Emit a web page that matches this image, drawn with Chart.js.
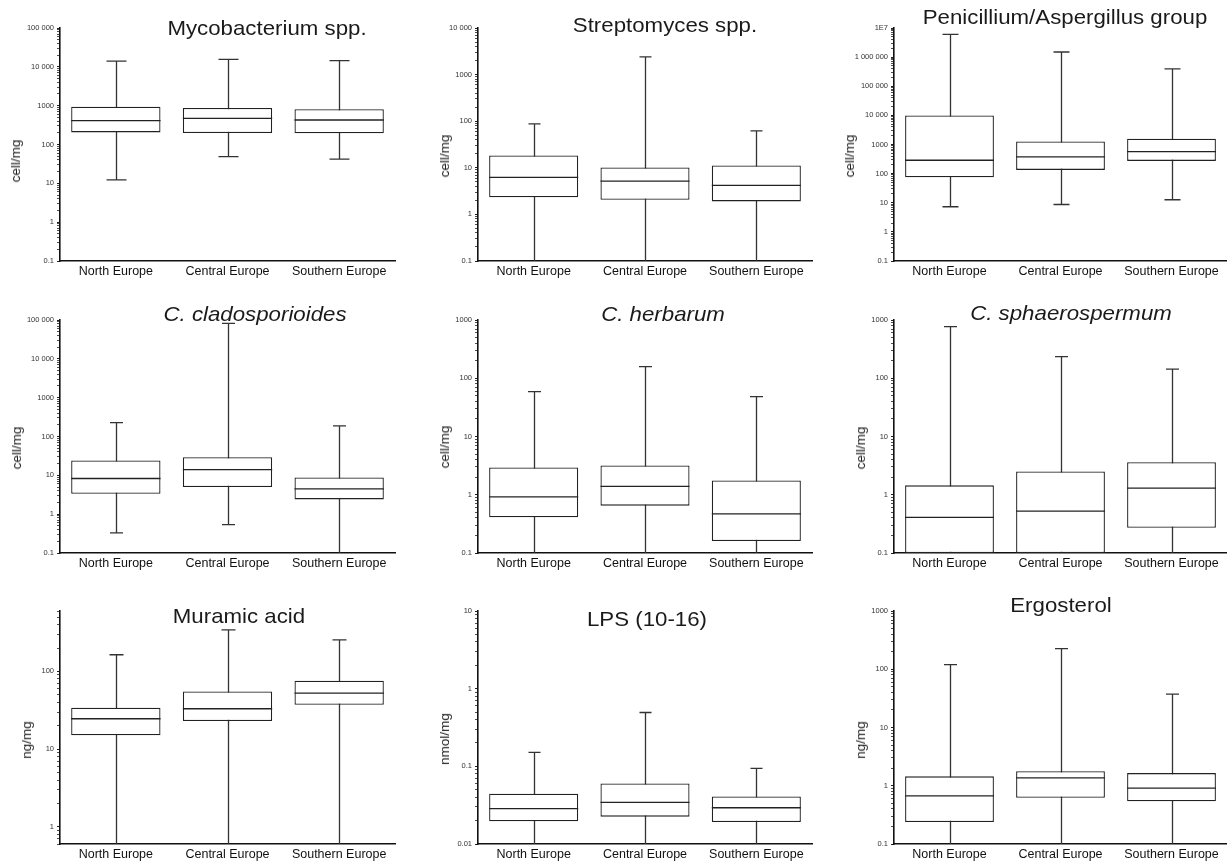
<!DOCTYPE html>
<html>
<head>
<meta charset="utf-8">
<script src="https://cdn.jsdelivr.net/npm/chart.js@4.4.1/dist/chart.umd.min.js"></script>
<style>
    body { margin: 0; background: #fff; }
    #page { position: relative; width: 1227px; height: 863px; overflow: hidden; font-family: "Liberation Sans", Arial, sans-serif; }
    .panel { position: absolute; }
    .title { position: absolute; font-size: 21px; line-height: 21px; white-space: nowrap; color: #1a1a1a; }
    .ytitle { position: absolute; font-size: 13.5px; line-height: 14px; white-space: nowrap; color: #222; transform: translate(-50%, -50%) rotate(-90deg); }
</style>
</head>
<body>
<div id="page"></div>
<script>
const regions = ['North Europe', 'Central Europe', 'Southern Europe'];

// Mycobacterium spp. (cell/mg)
const mycoRange = [0.1, 100000];
const mycoTicks = ['0.1', '1', '10', '100', '1000', '10 000', '100 000'];
const mycoMin = [12.3, 49, 42];
const mycoQ1  = [205, 198, 195];
const mycoMed = [410, 470, 427];
const mycoQ3  = [940, 870, 810];
const mycoMax = [14000, 15600, 14400];

// Streptomyces spp. (cell/mg)
const streptoRange = [0.1, 10000];
const streptoTicks = ['0.1', '1', '10', '100', '1000', '10 000'];
const streptoMin = [0.1, 0.1, 0.1];
const streptoQ1  = [2.34, 2.05, 1.9];
const streptoMed = [6.2, 5.2, 4.2];
const streptoQ3  = [18.4, 10.2, 11.2];
const streptoMax = [88, 2400, 62];

// Penicillium/Aspergillus group (cell/mg)
const peniRange = [0.1, 1e7];
const peniTicks = ['0.1', '1', '10', '100', '1000', '10 000', '100 000', '1 000 000', '1E7'];
const peniMin = [7.3, 8.7, 12.7];
const peniQ1  = [75, 134, 273];
const peniMed = [288, 377, 570];
const peniQ3  = [10000, 1270, 1580];
const peniMax = [6000000, 1500000, 395000];

// C. cladosporioides (cell/mg)
const cladoRange = [0.1, 100000];
const cladoTicks = ['0.1', '1', '10', '100', '1000', '10 000', '100 000'];
const cladoMin = [0.33, 0.54, 0.1];
const cladoQ1  = [3.35, 5.0, 2.4];
const cladoMed = [8.3, 14.1, 4.5];
const cladoQ3  = [24, 29.4, 8.8];
const cladoMax = [229, 82000, 187];

// C. herbarum (cell/mg)
const herbRange = [0.1, 1000];
const herbTicks = ['0.1', '1', '10', '100', '1000'];
const herbMin = [0.1, 0.1, 0.1];
const herbQ1  = [0.41, 0.65, 0.16];
const herbMed = [0.92, 1.39, 0.47];
const herbQ3  = [2.95, 3.18, 1.76];
const herbMax = [59, 158, 48.5];

// C. sphaerospermum (cell/mg)
const sphaeRange = [0.1, 1000];
const sphaeTicks = ['0.1', '1', '10', '100', '1000'];
const sphaeMin = [0.1, 0.1, 0.1];
const sphaeQ1  = [0.1, 0.1, 0.27];
const sphaeMed = [0.41, 0.525, 1.3];
const sphaeQ3  = [1.45, 2.5, 3.63];
const sphaeMax = [769, 235, 143];

// Muramic acid (ng/mg)
const muraRange = [0.6, 600];
const muraTicks = ['1', '10', '100'];
const muraMin = [0.6, 0.6, 0.6];
const muraQ1  = [15.1, 23, 37.3];
const muraMed = [24.6, 33.1, 52.7];
const muraQ3  = [34, 55.3, 75.9];
const muraMax = [164, 343, 255];

// LPS (10-16) (nmol/mg)
const lpsRange = [0.01, 10];
const lpsTicks = ['0.01', '0.1', '1', '10'];
const lpsMin = [0.01, 0.01, 0.01];
const lpsQ1  = [0.0196, 0.0225, 0.0192];
const lpsMed = [0.0285, 0.0343, 0.0293];
const lpsQ3  = [0.0444, 0.0603, 0.041];
const lpsMax = [0.151, 0.493, 0.094];

// Ergosterol (ng/mg)
const ergoRange = [0.1, 1000];
const ergoTicks = ['0.1', '1', '10', '100', '1000'];
const ergoMin = [0.1, 0.1, 0.1];
const ergoQ1  = [0.238, 0.62, 0.54];
const ergoMed = [0.67, 1.37, 0.91];
const ergoQ3  = [1.45, 1.78, 1.65];
const ergoMax = [120, 226, 37.3];

const panels = [
    { title: 'Mycobacterium spp.', unit: 'cell/mg', range: mycoRange, ticks: mycoTicks, stats: [mycoMin, mycoQ1, mycoMed, mycoQ3, mycoMax] },
    { title: 'Streptomyces spp.', unit: 'cell/mg', range: streptoRange, ticks: streptoTicks, stats: [streptoMin, streptoQ1, streptoMed, streptoQ3, streptoMax] },
    { title: 'Penicillium/Aspergillus group', unit: 'cell/mg', range: peniRange, ticks: peniTicks, stats: [peniMin, peniQ1, peniMed, peniQ3, peniMax] },
    { title: 'C. cladosporioides', italic: true, unit: 'cell/mg', range: cladoRange, ticks: cladoTicks, stats: [cladoMin, cladoQ1, cladoMed, cladoQ3, cladoMax] },
    { title: 'C. herbarum', italic: true, unit: 'cell/mg', range: herbRange, ticks: herbTicks, stats: [herbMin, herbQ1, herbMed, herbQ3, herbMax] },
    { title: 'C. sphaerospermum', italic: true, unit: 'cell/mg', range: sphaeRange, ticks: sphaeTicks, stats: [sphaeMin, sphaeQ1, sphaeMed, sphaeQ3, sphaeMax] },
    { title: 'Muramic acid', unit: 'ng/mg', range: muraRange, ticks: muraTicks, stats: [muraMin, muraQ1, muraMed, muraQ3, muraMax] },
    { title: 'LPS (10-16)', unit: 'nmol/mg', range: lpsRange, ticks: lpsTicks, stats: [lpsMin, lpsQ1, lpsMed, lpsQ3, lpsMax] },
    { title: 'Ergosterol', unit: 'ng/mg', range: ergoRange, ticks: ergoTicks, stats: [ergoMin, ergoQ1, ergoMed, ergoQ3, ergoMax] }
];

// layout of the 3x3 grid
const cols = [
    { left: 0, width: 400, axisW: 60, padR: 5 },
    { left: 410, width: 410, axisW: 68, padR: 8 },
    { left: 820, width: 407, axisW: 74, padR: 0 }
];
const rows = [
    { top: 0, height: 285, padT: 28, xH: 24 },
    { top: 290, height: 285, padT: 30, xH: 22 },
    { top: 580, height: 283, padT: 31, xH: 19 }
];
// title centre x / baseline y, unit label centre, whisker cap width
const titlePos = [[267, 35], [665, 32], [1065, 23.5], [255, 320.5], [663, 320.5], [1071, 319.5], [239, 623], [647, 625.5], [1061, 612]];
const unitPos = [[15.5, 161], [445, 156], [850, 156], [16.7, 448], [445, 447], [861, 448], [26.7, 740], [445, 739], [861, 740]];
const capW = [20, 12, 16, 13, 13, 13, 14, 12, 13];

Chart.defaults.font.family = '"Liberation Sans", Arial, sans-serif';

const boxWhiskers = {
    id: 'boxWhiskers',
    beforeDatasetsDraw(chart, args, opts) {
        const { ctx, chartArea } = chart;
        const y = chart.scales.y;
        const meta = chart.getDatasetMeta(0);
        ctx.save();
        ctx.beginPath();
        ctx.rect(chartArea.left, chartArea.top - 2, chartArea.width, chartArea.height + 2);
        ctx.clip();
        ctx.strokeStyle = '#333';
        ctx.lineWidth = 1.3;
        meta.data.forEach((bar, i) => {
            const x = Math.round(bar.x) + 0.5;
            const top = y.getPixelForValue(opts.max[i]);
            const bottom = y.getPixelForValue(opts.min[i]);
            ctx.beginPath();
            ctx.moveTo(x, top);
            ctx.lineTo(x, bottom);
            ctx.moveTo(x - opts.cap / 2, top);
            ctx.lineTo(x + opts.cap / 2, top);
            if (opts.min[i] > y.min * 1.001) {
                ctx.moveTo(x - opts.cap / 2, bottom);
                ctx.lineTo(x + opts.cap / 2, bottom);
            }
            ctx.stroke();
        });
        ctx.restore();
    },
    afterDatasetsDraw(chart, args, opts) {
        const { ctx } = chart;
        const y = chart.scales.y;
        const meta = chart.getDatasetMeta(0);
        ctx.save();
        ctx.strokeStyle = '#222';
        ctx.lineWidth = 1.3;
        meta.data.forEach((bar, i) => {
            const py = y.getPixelForValue(opts.med[i]);
            ctx.beginPath();
            ctx.moveTo(bar.x - bar.width / 2, py);
            ctx.lineTo(bar.x + bar.width / 2, py);
            ctx.stroke();
        });
        ctx.restore();
    }
};

function logTicks(lo, hi) {
    const out = [];
    for (let e = Math.floor(Math.log10(lo)); e <= Math.ceil(Math.log10(hi)); e++) {
        for (let m = 1; m < 10; m++) {
            const v = m * Math.pow(10, e);
            if (v >= lo * 0.999 && v <= hi * 1.001) out.push({ value: v, major: m === 1 });
        }
    }
    return out;
}

const page = document.getElementById('page');

panels.forEach((p, n) => {
    const col = cols[n % 3];
    const row = rows[Math.floor(n / 3)];
    const [sMin, sQ1, sMed, sQ3, sMax] = p.stats;
    const tickVals = p.ticks.map(t => Number(t.replace(/ /g, '')));

    const box = document.createElement('div');
    box.className = 'panel';
    box.style.left = col.left + 'px';
    box.style.top = row.top + 'px';
    box.style.width = col.width + 'px';
    box.style.height = row.height + 'px';
    const canvas = document.createElement('canvas');
    box.appendChild(canvas);
    page.appendChild(box);

    new Chart(canvas, {
        type: 'bar',
        data: {
            labels: regions,
            datasets: [{
                data: sQ1.map((v, i) => [v, sQ3[i]]),
                backgroundColor: '#ffffff',
                borderColor: '#222',
                borderWidth: 1.3,
                borderSkipped: false,
                barPercentage: 0.8,
                categoryPercentage: 1
            }]
        },
        options: {
            responsive: true,
            maintainAspectRatio: false,
            animation: false,
            layout: { padding: { top: row.padT, right: col.padR, left: 0, bottom: 0 } },
            plugins: {
                legend: { display: false },
                tooltip: { enabled: false },
                boxWhiskers: { min: sMin, med: sMed, max: sMax, cap: capW[n] }
            },
            scales: {
                x: {
                    grid: { display: false, drawTicks: false },
                    border: { display: true, color: '#111', width: 1.6 },
                    ticks: { color: '#111', font: { size: 12.5 }, padding: 3, autoSkip: false, maxRotation: 0 },
                    afterFit: s => { s.height = row.xH; }
                },
                y: {
                    type: 'logarithmic',
                    min: p.range[0],
                    max: p.range[1],
                    afterBuildTicks: s => { s.ticks = logTicks(p.range[0], p.range[1]); },
                    afterFit: s => { s.width = col.axisW; },
                    grid: {
                        drawOnChartArea: false,
                        drawTicks: true,
                        tickLength: 3,
                        tickColor: '#222',
                        tickWidth: c => (c.tick && c.tick.major ? 1.2 : 0.8)
                    },
                    border: { display: true, color: '#111', width: 1.6 },
                    ticks: {
                        autoSkip: false,
                        padding: 3,
                        color: '#333',
                        font: { size: 7.5 },
                        callback: v => {
                            const k = tickVals.findIndex(t => Math.abs(t - v) / t < 1e-6);
                            return k >= 0 ? p.ticks[k] : '';
                        }
                    }
                }
            }
        },
        plugins: [boxWhiskers]
    });

    const t = document.createElement('div');
    t.className = 'title';
    t.textContent = p.title;
    if (p.italic) t.style.fontStyle = 'italic';
    t.style.left = titlePos[n][0] + 'px';
    t.style.top = (titlePos[n][1] - 17.8) + 'px';
    t.style.transform = 'translateX(-50%) scaleX(1.06)';
    page.appendChild(t);

    const u = document.createElement('div');
    u.className = 'ytitle';
    u.textContent = p.unit;
    u.style.left = unitPos[n][0] + 'px';
    u.style.top = unitPos[n][1] + 'px';
    page.appendChild(u);
});
</script>
</body>
</html>
